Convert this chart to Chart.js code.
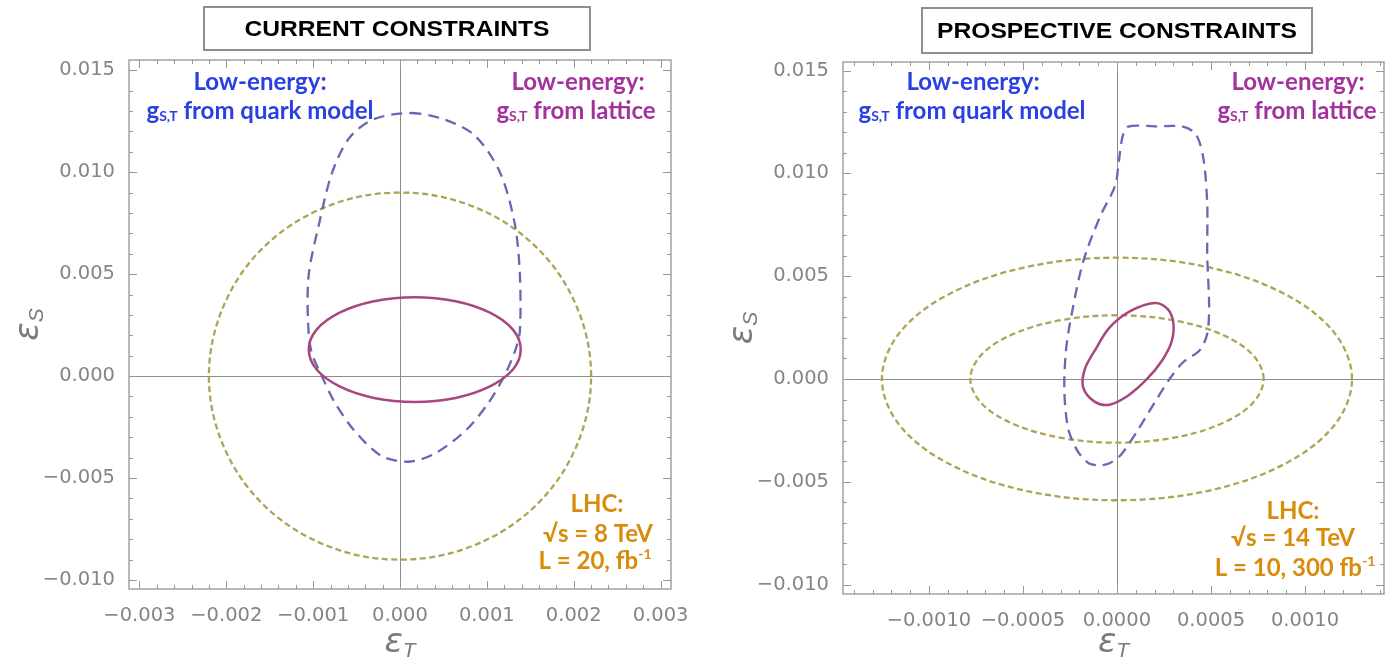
<!DOCTYPE html>
<html>
<head>
<meta charset="utf-8">
<script src="https://cdn.jsdelivr.net/npm/chart.js@4.4.1/dist/chart.umd.min.js"></script>
<style>
html, body { margin: 0; padding: 0; background: #fff; }
#wrap { position: relative; width: 1392px; height: 661px; overflow: hidden; }
.painel { position: absolute; top: 0; width: 696px; height: 661px; }
</style>
</head>
<body>
<div id="wrap">
  <div class="painel" style="left:0"><canvas id="graf1" width="696" height="661"></canvas></div>
  <div class="painel" style="left:696px"><canvas id="graf2" width="696" height="661"></canvas></div>
</div>
<script>
// tick labels
let xTicksAtual = [-0.003, -0.002, -0.001, 0, 0.001, 0.002, 0.003]
let xTicksFuturo = [-0.001, -0.0005, 0, 0.0005, 0.001]
let yTicks = [-0.01, -0.005, 0, 0.005, 0.01, 0.015]

// current constraints: contours [epsT, epsS]
let lhcAtual = [[0.0022, 0], [0.00203, 0.00345], [0.00156, 0.00636], [0.00084, 0.00832], [0, 0.009],
  [-0.00084, 0.00832], [-0.00156, 0.00636], [-0.00203, 0.00345], [-0.0022, 0], [-0.00203, -0.00345],
  [-0.00156, -0.00636], [-0.00084, -0.00832], [0, -0.009], [0.00084, -0.00832], [0.00156, -0.00636],
  [0.00203, -0.00345]]
let quarkAtual = [[0.00012, 0.0129], [0.0005, 0.0126], [0.00086, 0.0118], [0.00115, 0.0100], [0.00132, 0.0075],
  [0.00138, 0.0050], [0.00138, 0.0022], [0.00133, 0.0013], [0.0012, 0.0], [0.00102, -0.0013], [0.00076, -0.00265],
  [0.0004, -0.0038], [0.0001, -0.0042], [-0.00022, -0.0039], [-0.00053, -0.00265], [-0.00075, -0.0013],
  [-0.0009, 0.0], [-0.00102, 0.0012], [-0.00106, 0.0028], [-0.00105, 0.005], [-0.00093, 0.0075],
  [-0.00078, 0.0100], [-0.00058, 0.0117], [-0.0003, 0.0126]]
let latticeAtual = [[0.00139, 0.0013], [0.0013, 0.00228], [0.00103, 0.00312], [0.00064, 0.00367], [0.00017, 0.00387],
  [-0.0003, 0.00367], [-0.00069, 0.00312], [-0.00096, 0.00228], [-0.00105, 0.0013], [-0.00096, 0.00032],
  [-0.00069, -0.00052], [-0.0003, -0.00107], [0.00017, -0.00127], [0.00064, -0.00107], [0.00103, -0.00052],
  [0.0013, 0.00032]]

// prospective constraints
let lhc10 = [[0.00125, 0], [0.001155, 0.00226], [0.000884, 0.00417], [0.000479, 0.00545], [0, 0.0059],
  [-0.000479, 0.00545], [-0.000884, 0.00417], [-0.001155, 0.00226], [-0.00125, 0], [-0.001155, -0.00226],
  [-0.000884, -0.00417], [-0.000479, -0.00545], [0, -0.0059], [0.000479, -0.00545], [0.000884, -0.00417],
  [0.001155, -0.00226]]
let lhc300 = [[0.00078, 0], [0.00072, 0.00119], [0.000551, 0.00219], [0.000298, 0.00286], [0, 0.0031],
  [-0.000298, 0.00286], [-0.000551, 0.00219], [-0.00072, 0.00119], [-0.00078, 0], [-0.00072, -0.00119],
  [-0.000551, -0.00219], [-0.000298, -0.00286], [0, -0.0031], [0.000298, -0.00286], [0.000551, -0.00219],
  [0.00072, -0.00119]]
let quarkFuturo = [[0.00006, 0.01228], [0.0002, 0.01229], [0.00035, 0.01228], [0.00042, 0.0119], [0.00046, 0.0107],
  [0.00048, 0.0085], [0.00048, 0.006], [0.00049, 0.0035], [0.00048, 0.0022], [0.00044, 0.0014], [0.00035, 0.0008],
  [0.00028, 0.0], [0.00021, -0.001], [0.00011, -0.0025], [0.00002, -0.0037], [-0.00004, -0.0041],
  [-0.00009, -0.0042], [-0.00015, -0.0041], [-0.00021, -0.0035], [-0.00026, -0.0024], [-0.00028, -0.0005],
  [-0.00027, 0.0015], [-0.00024, 0.0032], [-0.00018, 0.0057], [-0.00009, 0.0079], [-0.00001, 0.0094],
  [0.00001, 0.0106], [0.00003, 0.0118]]
let latticeFuturo = [[0.0002, 0.0037], [0.00027, 0.0034], [0.0003, 0.0027], [0.00029, 0.0018], [0.00024, 0.0009],
  [0.00016, 0.0], [0.00006, -0.0008], [-0.00004, -0.00125], [-0.00012, -0.0011], [-0.00018, -0.0004],
  [-0.00017, 0.0005], [-0.00011, 0.0015], [-0.00004, 0.0025], [0.00007, 0.0033]]

let AZUL_TXT = '#2b40e2'
let ROXO_TXT = '#a2339c'
let LARANJA = '#d88c0c'
let CINZA = '#858585'
let FONTE = 'Lato, "Open Sans", sans-serif'

let pontos = arr => arr.map(p => ({ x: p[0], y: p[1] }))

let curva = (arr, tipo) => {
  let base = { data: pontos(arr), showLine: true, pointRadius: 0, borderWidth: 2.3, fill: false, tension: 0.35 }
  if (tipo === 'lhc') return { ...base, borderColor: '#aea456', borderDash: [6, 3.5] }
  if (tipo === 'quark') return { ...base, borderColor: '#6767b4', borderDash: [11, 7], tension: 0.3 }
  return { ...base, borderColor: '#a8467f', borderWidth: 2.5 }
}

let fmt = (v, d) => (v < 0 ? '\u2212' : '') + Math.abs(v).toFixed(d)

// rich text: pieces with size and vertical offset (sub/superscripts)
function textoRico(ctx, partes, cx, cy, cor) {
  ctx.save()
  ctx.fillStyle = cor
  ctx.textBaseline = 'alphabetic'
  let total = 0
  partes.forEach(p => { ctx.font = p.f; total += ctx.measureText(p.t).width })
  let x = cx - total / 2
  partes.forEach(p => {
    ctx.font = p.f
    ctx.fillText(p.t, x, cy + (p.dy || 0))
    x += ctx.measureText(p.t).width
  })
  ctx.restore()
}

let B = s => 'bold ' + s + 'px ' + FONTE
let linhaG = resto => [{ t: 'g', f: B(24) }, { t: 'S,T', f: B(14), dy: 2 }, { t: resto, f: B(24) }]

let moldura = {
  id: 'moldura',
  afterDatasetsUpdate(chart) {
    chart.data.datasets.forEach((d, i) => {
      let linha = chart.getDatasetMeta(i).dataset
      linha._loop = true
      linha._fullLoop = true
      linha._pointsUpdated = false
      delete linha._segments
      delete linha._path
    })
  },
  beforeDatasetsDraw(chart) {
    let { ctx, chartArea: a, scales: { x, y } } = chart
    ctx.save()
    ctx.strokeStyle = '#8c8c8c'
    ctx.lineWidth = 1
    let x0 = Math.round(x.getPixelForValue(0)) + 0.5
    let y0 = Math.round(y.getPixelForValue(0)) + 0.5
    ctx.beginPath()
    ctx.moveTo(x0, a.top); ctx.lineTo(x0, a.bottom)
    ctx.moveTo(a.left, y0); ctx.lineTo(a.right, y0)
    ctx.stroke()
    ctx.restore()
  },
  afterDatasetsDraw(chart) {
    let { ctx, chartArea: a, scales: { x, y } } = chart
    let cfg = chart.options.plugins.moldura
    ctx.save()
    ctx.strokeStyle = '#a2a2a2'
    ctx.lineWidth = 1.5
    ctx.strokeRect(a.left, a.top, a.right - a.left, a.bottom - a.top)
    ctx.lineWidth = 1
    ctx.strokeStyle = '#999'
    ctx.beginPath()
    let marcas = (escala, passo, maior) => {
      let lista = []
      let i0 = Math.ceil(escala.min / passo - 1e-6)
      let i1 = Math.floor(escala.max / passo + 1e-6)
      for (let i = i0; i <= i1; i++) {
        let v = i * passo
        let eMaior = Math.abs(v / maior - Math.round(v / maior)) < 1e-6
        lista.push({ p: escala.getPixelForValue(v), L: eMaior ? 8 : 4 })
      }
      return lista
    }
    marcas(x, cfg.minX, cfg.majX).forEach(m => {
      let px = Math.round(m.p) + 0.5
      ctx.moveTo(px, a.bottom); ctx.lineTo(px, a.bottom - m.L)
      ctx.moveTo(px, a.top); ctx.lineTo(px, a.top + m.L)
    })
    marcas(y, 0.001, 0.005).forEach(m => {
      let py = Math.round(m.p) + 0.5
      ctx.moveTo(a.left, py); ctx.lineTo(a.left + m.L, py)
      ctx.moveTo(a.right, py); ctx.lineTo(a.right - m.L, py)
    })
    ctx.stroke()
    ctx.restore()
  },
  afterDraw(chart) {
    let { ctx, chartArea: a } = chart
    let cfg = chart.options.plugins.moldura
    // title box
    let t = cfg.titulo
    ctx.save()
    ctx.strokeStyle = '#8f8f8f'
    ctx.lineWidth = 2
    ctx.strokeRect(t.x0, t.y0, t.x1 - t.x0, t.y1 - t.y0)
    ctx.font = 'bold 22px "Liberation Sans", Arial, sans-serif'
    ctx.fillStyle = '#000'
    ctx.textBaseline = 'middle'
    ctx.textAlign = 'center'
    let w = ctx.measureText(t.texto).width
    let cx = (t.x0 + t.x1) / 2
    ctx.translate(cx, (t.y0 + t.y1) / 2 + 1)
    ctx.scale(t.largura / w, 1)
    ctx.fillText(t.texto, 0, 0)
    ctx.restore()

    cfg.textos.forEach(tx => textoRico(ctx, tx.partes, tx.cx, tx.cy, tx.cor))

    // axis titles
    let eps = [{ t: '\u03b5', f: 'italic 34px "DejaVu Sans", sans-serif' }]
    textoRico(ctx, eps.concat([{ t: 'T', f: 'italic 21px "Liberation Sans", sans-serif', dy: 5 }]),
      (a.left + a.right) / 2 + cfg.dxT, 652, '#7a7a7a')
    ctx.save()
    ctx.translate(cfg.yTitX, (a.top + a.bottom) / 2)
    ctx.rotate(-Math.PI / 2)
    textoRico(ctx, eps.concat([{ t: 'S', f: 'italic 21px "Liberation Sans", sans-serif', dy: 5 }]), 0, 10, '#7a7a7a')
    ctx.restore()
  }
}

function montarGrafico(id, cfg) {
  let ctx = document.getElementById(id).getContext('2d')
  return new Chart(ctx, {
    type: 'scatter',
    data: { datasets: cfg.datasets },
    options: {
      responsive: false,
      animation: false,
      events: [],
      layout: { padding: { left: 0, right: 696 - cfg.area.right, top: cfg.area.top, bottom: 0 } },
      plugins: {
        legend: { display: false },
        tooltip: { enabled: false },
        moldura: cfg.moldura
      },
      scales: {
        x: {
          type: 'linear',
          min: cfg.xMin,
          max: cfg.xMax,
          afterBuildTicks: s => { s.ticks = cfg.xTicks.map(v => ({ value: v })) },
          afterFit: s => { s.height = 661 - cfg.area.bottom },
          grid: { display: false },
          border: { display: false },
          ticks: {
            color: CINZA,
            padding: 7,
            maxRotation: 0,
            autoSkip: false,
            font: { family: '"DejaVu Sans", sans-serif', size: 19.5 },
            callback: v => fmt(v, cfg.decX)
          }
        },
        y: {
          type: 'linear',
          min: cfg.yMin,
          max: cfg.yMax,
          afterBuildTicks: s => { s.ticks = yTicks.map(v => ({ value: v })) },
          afterFit: s => { s.width = cfg.area.left },
          grid: { display: false },
          border: { display: false },
          ticks: {
            color: CINZA,
            padding: 6,
            autoSkip: false,
            font: { family: '"DejaVu Sans", sans-serif', size: 19.5 },
            callback: v => fmt(v, 3)
          }
        }
      }
    },
    plugins: [moldura]
  })
}

montarGrafico('graf1', {
  area: { left: 129, right: 671, top: 60, bottom: 589 },
  xMin: -0.00312, xMax: 0.00312, yMin: -0.01044, yMax: 0.0155,
  xTicks: xTicksAtual, decX: 3,
  datasets: [curva(latticeAtual, 'lattice'), curva(quarkAtual, 'quark'), curva(lhcAtual, 'lhc')],
  moldura: {
    minX: 0.0002, majX: 0.001, dxT: 0, yTitX: 28,
    titulo: { texto: 'CURRENT CONSTRAINTS', x0: 204, y0: 7, x1: 590, y1: 50, largura: 305 },
    textos: [
      { partes: [{ t: 'Low-energy:', f: B(24) }], cx: 260, cy: 90, cor: AZUL_TXT },
      { partes: linhaG(' from quark model'), cx: 260, cy: 119, cor: AZUL_TXT },
      { partes: [{ t: 'Low-energy:', f: B(24) }], cx: 578, cy: 90, cor: ROXO_TXT },
      { partes: linhaG(' from lattice'), cx: 576, cy: 119, cor: ROXO_TXT },
      { partes: [{ t: 'LHC:', f: B(24) }], cx: 597, cy: 512, cor: LARANJA },
      { partes: [{ t: '\u221As = 8 TeV', f: B(24) }], cx: 598, cy: 542, cor: LARANJA },
      { partes: [{ t: 'L = 20, fb', f: B(24) }, { t: '-1', f: B(14), dy: -10 }], cx: 595, cy: 569, cor: LARANJA }
    ]
  }
})

montarGrafico('graf2', {
  area: { left: 147, right: 688, top: 62, bottom: 594 },
  xMin: -0.001457, xMax: 0.00142, yMin: -0.01046, yMax: 0.01542,
  xTicks: xTicksFuturo, decX: 4,
  datasets: [curva(latticeFuturo, 'lattice'), curva(quarkFuturo, 'quark'), curva(lhc300, 'lhc'), curva(lhc10, 'lhc')],
  moldura: {
    minX: 0.0001, majX: 0.0005, dxT: 0, yTitX: 46,
    titulo: { texto: 'PROSPECTIVE CONSTRAINTS', x0: 226, y0: 8, x1: 616, y1: 53, largura: 360 },
    textos: [
      { partes: [{ t: 'Low-energy:', f: B(24) }], cx: 277, cy: 90, cor: AZUL_TXT },
      { partes: linhaG(' from quark model'), cx: 276, cy: 119, cor: AZUL_TXT },
      { partes: [{ t: 'Low-energy:', f: B(24) }], cx: 602, cy: 90, cor: ROXO_TXT },
      { partes: linhaG(' from lattice'), cx: 601, cy: 119, cor: ROXO_TXT },
      { partes: [{ t: 'LHC:', f: B(24) }], cx: 597, cy: 519, cor: LARANJA },
      { partes: [{ t: '\u221As = 14 TeV', f: B(24) }], cx: 597, cy: 546, cor: LARANJA },
      { partes: [{ t: 'L = 10, 300 fb', f: B(24) }, { t: '-1', f: B(14), dy: -10 }], cx: 599, cy: 576, cor: LARANJA }
    ]
  }
})
</script>
</body>
</html>
